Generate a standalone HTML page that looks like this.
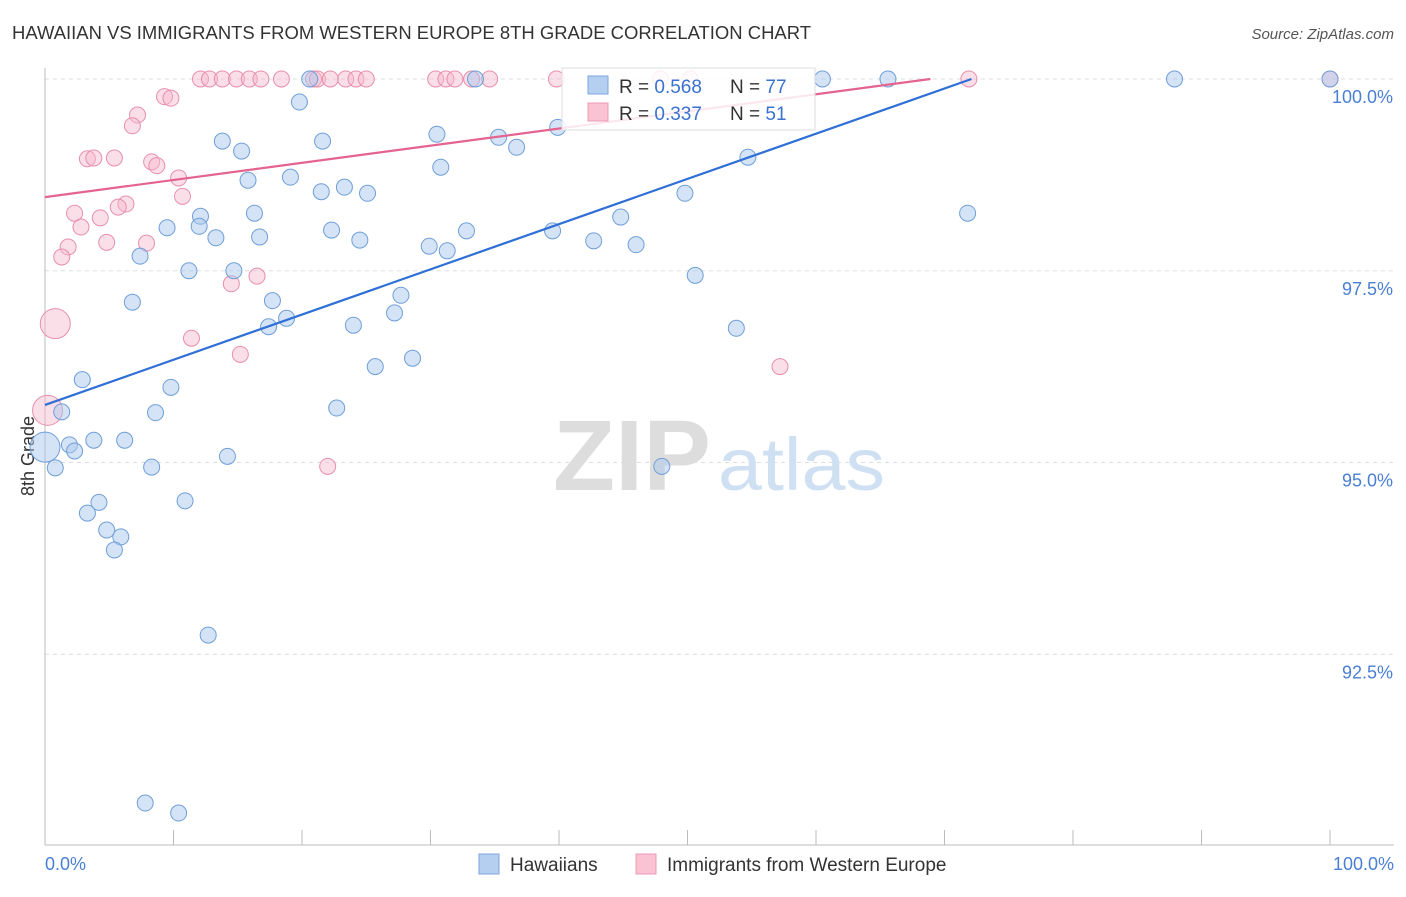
<!DOCTYPE html>
<html><head><meta charset="utf-8">
<style>
body{margin:0;background:#fff;font-family:"Liberation Sans",sans-serif;}
svg text{font-family:"Liberation Sans",sans-serif;}
</style></head>
<body>
<svg id="chart" width="1406" height="892" viewBox="0 0 1406 892" xmlns="http://www.w3.org/2000/svg">
<text x="12" y="39" font-size="18" fill="#333" textLength="799" lengthAdjust="spacingAndGlyphs">HAWAIIAN VS IMMIGRANTS FROM WESTERN EUROPE 8TH GRADE CORRELATION CHART</text>
<text x="1394" y="39" font-size="15" fill="#555" text-anchor="end" font-style="italic">Source: ZipAtlas.com</text>
<g id="grid"></g>
<g>
<text x="553" y="490" font-size="100" fill="#ddd" font-family="Liberation Serif" font-weight="bold" textLength="158" lengthAdjust="spacingAndGlyphs">ZIP</text>
<text x="718" y="490" font-size="74" fill="#cfe0f3" textLength="167" lengthAdjust="spacingAndGlyphs">atlas</text>
</g>
<line x1="45" y1="68" x2="45" y2="845" stroke="#bbb"/>
<line x1="45" y1="845" x2="1394" y2="845" stroke="#bbb"/>
<g id="ticks"></g>
<text transform="translate(34,456) rotate(-90)" font-size="18" fill="#333" text-anchor="middle">8th Grade</text>
<text x="45" y="870" font-size="18" fill="#4a7fd4">0.0%</text>
<text x="1394" y="870" font-size="18" fill="#4a7fd4" text-anchor="end">100.0%</text>
<g id="points"></g>
<g id="lines"></g>
<g>
<rect x="562" y="68" width="253" height="62" fill="#fff" fill-opacity="0.85" stroke="#ddd"/>
<rect x="588" y="76" width="20" height="18" fill="#b5cff0" stroke="#7aa6dc"/>
<rect x="588" y="103" width="20" height="18" fill="#f9c3d3" stroke="#eb98b3"/>
<text x="619" y="93" font-size="19" fill="#333">R = <tspan fill="#3a72d0">0.568</tspan></text>
<text x="730" y="93" font-size="19" fill="#333">N = <tspan fill="#3a72d0">77</tspan></text>
<text x="619" y="120" font-size="19" fill="#333">R = <tspan fill="#3a72d0">0.337</tspan></text>
<text x="730" y="120" font-size="19" fill="#333">N = <tspan fill="#3a72d0"> 51</tspan></text>
</g>
<g>
<rect x="479" y="854" width="20" height="20" fill="#b5cff0" stroke="#7aa6dc"/>
<text x="510" y="871" font-size="19" fill="#333">Hawaiians</text>
<rect x="636" y="854" width="20" height="20" fill="#f9c3d3" stroke="#eb98b3"/>
<text x="667" y="871" font-size="19" fill="#333">Immigrants from Western Europe</text>
</g>
</svg>
<script>
const yTicks=[100,97.5,95,92.5];
const yTickLabels=["100.0%","97.5%","95.0%","92.5%"];
const xTicks=[0,10,20,30,40,50,60,70,80,90,100];
const blueX=[20.6,33.5,60.5,65.6,87.9,100,19.8,13.8,15.3,21.6,30.5,35.3,36.7,39.9,54.7,30.8,15.8,19.1,21.5,23.3,25.1,49.8,71.8,12.1,16.3,9.5,12.0,13.3,16.7,22.3,24.5,29.9,31.3,32.8,39.5,42.7,44.8,46.0,7.4,11.2,14.7,50.6,6.8,17.7,27.7,18.8,17.4,24.0,27.2,53.8,28.6,25.7,2.9,9.8,22.7,8.6,1.3,3.8,6.2,1.9,2.3,14.2,0.8,8.3,48.0,4.2,10.9,3.3,4.8,5.9,5.4,12.7,7.8,10.4,0];
const blueY=[100,100,100,100,100,100,99.70,99.19,99.06,99.19,99.28,99.24,99.11,99.37,98.98,98.85,98.68,98.72,98.53,98.59,98.51,98.51,98.25,98.21,98.25,98.06,98.08,97.93,97.94,98.03,97.90,97.82,97.76,98.02,98.02,97.89,98.20,97.84,97.69,97.50,97.50,97.44,97.09,97.11,97.18,96.88,96.77,96.79,96.95,96.75,96.36,96.25,96.08,95.98,95.71,95.65,95.66,95.29,95.29,95.23,95.15,95.08,94.93,94.94,94.95,94.48,94.50,94.34,94.12,94.03,93.86,92.75,90.56,90.43,95.20];
const blueR=blueX.map((x,i)=>i===blueX.length-1?15:8);
const pinkX=[12.1,12.8,13.8,14.9,15.9,16.8,18.4,20.9,21.2,22.2,23.4,24.2,25.0,30.4,31.2,31.9,33.2,34.6,39.8,47.9,50.2,71.9,100,9.3,9.8,7.2,6.8,3.3,3.8,5.4,8.3,8.7,10.4,10.7,6.3,5.7,2.3,4.3,2.8,4.8,7.9,1.8,1.3,16.5,14.5,0.8,11.4,15.2,57.2,22.0,0.2];
const pinkY=[100,100,100,100,100,100,100,100,100,100,100,100,100,100,100,100,100,100,100,100,100,100,100,99.77,99.75,99.53,99.39,98.96,98.97,98.97,98.92,98.87,98.71,98.47,98.37,98.33,98.25,98.19,98.07,97.87,97.86,97.81,97.68,97.43,97.33,96.81,96.62,96.41,96.25,94.95,95.68];
const bigPink=[45,50];
const trendStart=[95.75,98.46];
const trendEndX=[72.1,68.9];
const trendEndY=[100,100];
const NS="http://www.w3.org/2000/svg";
const xs=v=>45+v*12.85;
const ys=v=>79+(100-v)*76.7;
function mk(tag,attrs,parent){const e=document.createElementNS(NS,tag);for(const k in attrs)e.setAttribute(k,attrs[k]);parent.appendChild(e);return e;}
const grid=document.getElementById('grid'),ticks=document.getElementById('ticks'),pts=document.getElementById('points'),lines=document.getElementById('lines');
yTicks.forEach((t,i)=>{
 const l=mk('line',{x1:45,x2:1394,y1:ys(t),y2:ys(t),stroke:'#ddd','stroke-dasharray':'4,4'},grid);
 
 
 const tx=mk('text',{x:1393,y:ys(t)+24,'font-size':18,fill:'#4a7fd4','text-anchor':'end'},ticks);
 tx.textContent=yTickLabels[i];
 
 
});
xTicks.forEach(t=>{
 const l=mk('line',{x1:xs(t),x2:xs(t),y1:830,y2:845,stroke:'#bbb'},ticks);
 
 
});
pinkX.forEach((x,i)=>{
 const r=bigPink.includes(i)?15:8;
 const c=mk('circle',{cx:xs(x),cy:ys(pinkY[i]),r:r,fill:'#f6b8cb','fill-opacity':0.45,stroke:'#e88fab','stroke-width':1},pts);
 
 
});
blueX.forEach((x,i)=>{
 const c=mk('circle',{cx:xs(x),cy:ys(blueY[i]),r:blueR[i],fill:'#a9c8ee','fill-opacity':0.5,stroke:'#6f9fd8','stroke-width':1},pts);
 
 
});
const cols=['#2f6fd6','#e4648f'];
trendStart.forEach((s,i)=>{
 const l=mk('line',{x1:xs(0),y1:ys(s),x2:xs(trendEndX[i]),y2:ys(trendEndY[i]),stroke:cols[i],'stroke-width':2.2},lines);
 
 
});
</script>
</body></html>
